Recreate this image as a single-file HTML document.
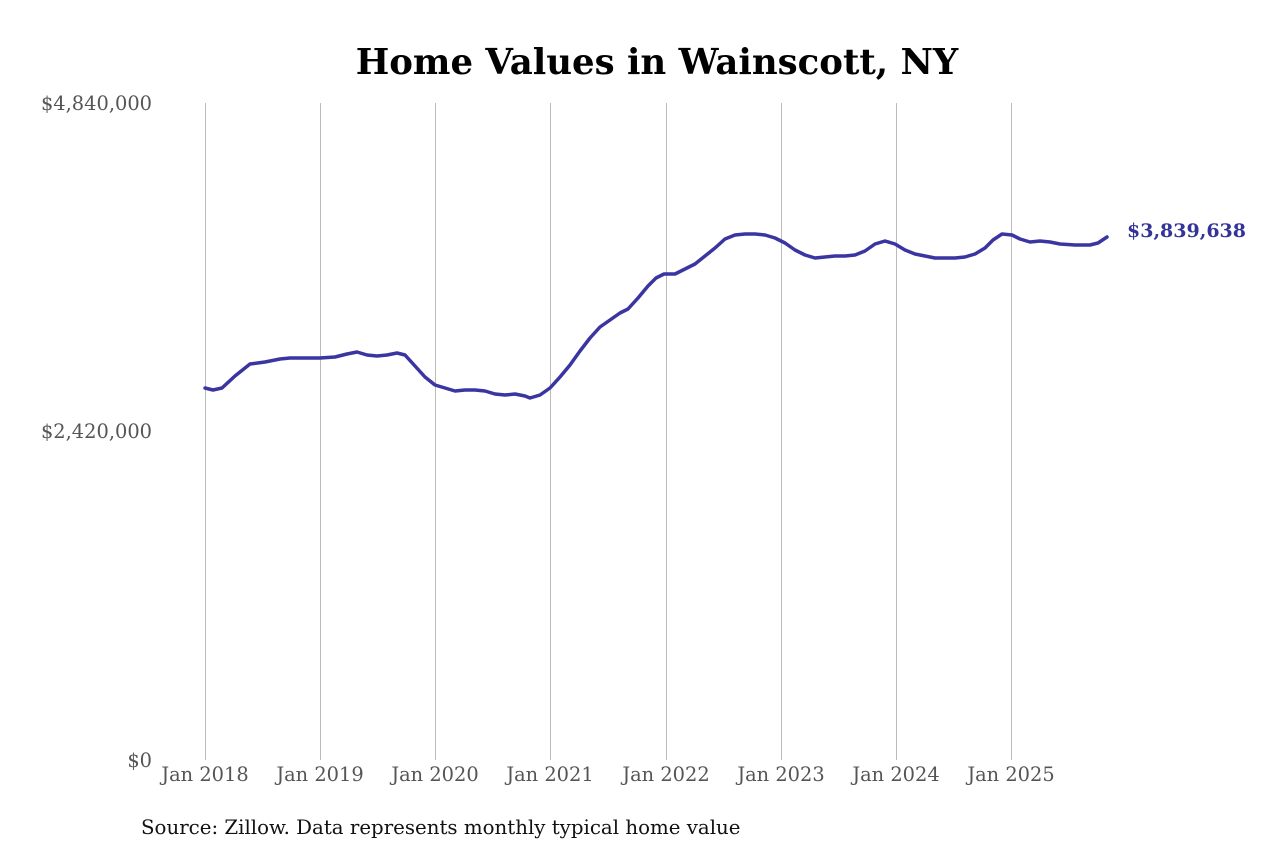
<!DOCTYPE html>
<html><head><meta charset="utf-8"><style>
html,body{margin:0;padding:0;background:#fff;}
svg{display:block;font-family:"DejaVu Serif","Liberation Serif",serif;}
</style></head><body>
<svg width="1280" height="853" viewBox="0 0 1280 853" xmlns="http://www.w3.org/2000/svg">
<rect width="1280" height="853" fill="#fff"/>
<text x="657" y="74" text-anchor="middle" font-size="35.5" font-weight="bold" fill="#000">Home Values in Wainscott, NY</text>
<g stroke="#bbb" stroke-width="1">
<line x1="205.5" y1="103" x2="205.5" y2="760"/>
<line x1="320.5" y1="103" x2="320.5" y2="760"/>
<line x1="435.5" y1="103" x2="435.5" y2="760"/>
<line x1="550.5" y1="103" x2="550.5" y2="760"/>
<line x1="666.5" y1="103" x2="666.5" y2="760"/>
<line x1="781.5" y1="103" x2="781.5" y2="760"/>
<line x1="896.5" y1="103" x2="896.5" y2="760"/>
<line x1="1011.5" y1="103" x2="1011.5" y2="760"/>
</g>
<g font-size="19.4" fill="#555" text-anchor="end">
<text x="152" y="110">$4,840,000</text>
<text x="152" y="438">$2,420,000</text>
<text x="152" y="767">$0</text>
</g>
<g font-size="19.4" fill="#555" text-anchor="middle">
<text x="205" y="781">Jan 2018</text>
<text x="320" y="781">Jan 2019</text>
<text x="435" y="781">Jan 2020</text>
<text x="550" y="781">Jan 2021</text>
<text x="666" y="781">Jan 2022</text>
<text x="781" y="781">Jan 2023</text>
<text x="896" y="781">Jan 2024</text>
<text x="1011" y="781">Jan 2025</text>
</g>
<polyline fill="none" stroke="#3a35a0" stroke-width="3.5" stroke-linejoin="round" stroke-linecap="round" points="205,388 213,390 222,388 235,376 250,364 265,362 280,359 290,358 300,358 320,358 335,357 347,354 357,352 367,355 377,356 387,355 397,353 405,355 415,366 425,377 435,385 445,388 455,391 465,390 475,390 485,391 495,394 505,395 515,394 525,396 530,398 540,395 550,388 560,377 570,365 580,351 590,338 600,327 610,320 620,313 628,309 638,298 648,286 656,278 664,274 675,274 685,269 695,264 705,256 715,248 725,239 735,235 745,234 755,234 765,235 775,238 785,243 795,250 805,255 815,258 825,257 835,256 845,256 855,255 865,251 875,244 885,241 895,244 905,250 915,254 925,256 935,258 945,258 955,258 965,257 975,254 985,248 993,240 1002,234 1012,235 1020,239 1030,242 1040,241 1050,242 1060,244 1075,245 1090,245 1098,243 1107,237"/>
<text x="1127" y="237" font-size="19" font-weight="bold" fill="#33339a">$3,839,638</text>
<text x="141" y="834" font-size="19.8" fill="#111">Source: Zillow. Data represents monthly typical home value</text>
</svg>
</body></html>
